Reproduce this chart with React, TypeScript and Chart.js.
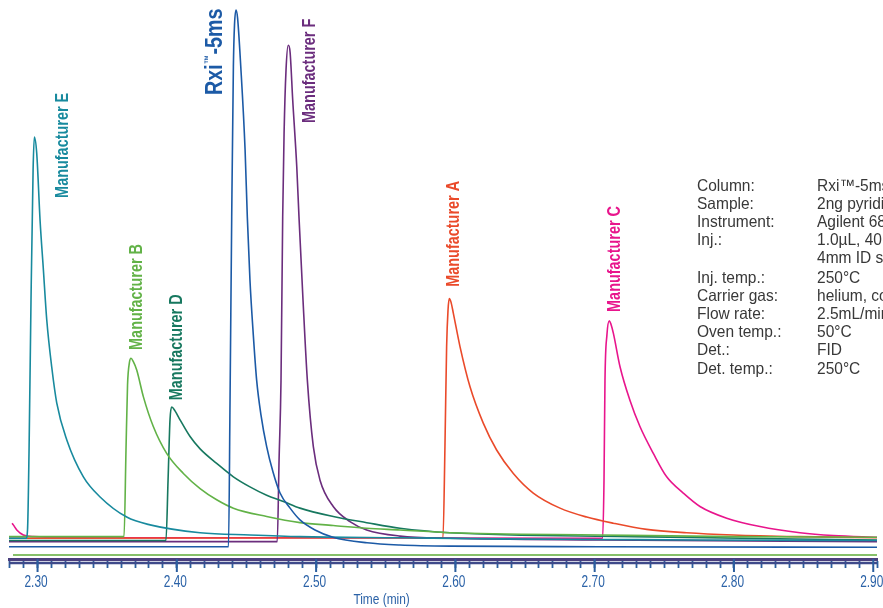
import React, { useEffect, useRef } from "react";
import { Chart, registerables } from "chart.js";

Chart.register(...registerables);

// ---- data (time in min, response in % of full scale) ----
const rxiT = [2.2795, 2.4371, 2.4382, 2.4394, 2.4406, 2.4414, 2.4425, 2.4436, 2.4459, 2.449, 2.4506, 2.4525, 2.4549, 2.4573, 2.4604, 2.4645, 2.469, 2.4741, 2.4813, 2.4884, 2.4992, 2.5121, 2.5365, 2.5602, 2.5961, 2.7038, 2.9027];
const rxiV = [2.2, 2.2, 28.4, 61.2, 88.1, 95.5, 98.2, 96.8, 88.1, 73.2, 61.2, 49.9, 40.1, 32.0, 25.8, 20.1, 15.6, 11.8, 9.1, 7.0, 5.2, 3.9, 2.9, 2.5, 2.3, 2.2, 2.1];

const eT = [2.2795, 2.2917, 2.2928, 2.2939, 2.2953, 2.2968, 2.2977, 2.2994, 2.3018, 2.3042, 2.3066, 2.3102, 2.3138, 2.321, 2.3329, 2.3449, 2.364, 2.3808, 2.4167, 2.4525, 2.4884, 2.5602, 2.632, 2.7038, 2.7756, 2.9027];
const eV = [3.7, 3.7, 5.2, 19.5, 46.3, 69.6, 75.5, 72.6, 60.6, 51.7, 42.8, 34.3, 27.9, 21.3, 14.7, 11.1, 7.5, 6.1, 4.7, 4.3, 4.0, 3.8, 3.6, 3.5, 3.4, 3.3];

const bT = [2.2795, 2.3621, 2.3635, 2.3646, 2.366, 2.3671, 2.3686, 2.3712, 2.376, 2.3831, 2.3927, 2.4047, 2.4167, 2.4286, 2.4406, 2.4645, 2.4884, 2.5123, 2.5363, 2.5602, 2.5961, 2.7038, 2.7995, 2.9027];
const bV = [4.0, 4.0, 19.5, 31.1, 35.2, 35.9, 35.4, 33.8, 29.0, 23.7, 18.9, 15.3, 12.6, 10.6, 9.1, 7.6, 6.5, 6.0, 5.5, 5.2, 4.7, 4.3, 4.0, 3.9];

const dT = [2.2795, 2.3922, 2.3937, 2.3951, 2.3963, 2.3987, 2.4023, 2.4095, 2.4167, 2.4286, 2.4406, 2.4525, 2.4645, 2.4765, 2.4884, 2.5123, 2.5363, 2.5602, 2.5961, 2.7275, 2.9027];
const dV = [3.3, 3.3, 14.1, 24.9, 27.2, 26.5, 24.9, 21.9, 19.7, 17.1, 14.7, 12.9, 11.4, 10.3, 9.1, 7.6, 6.5, 5.5, 4.7, 4.0, 3.4];

const fT = [2.2795, 2.4721, 2.4734, 2.4748, 2.476, 2.477, 2.4784, 2.48, 2.4813, 2.4832, 2.4861, 2.4877, 2.4906, 2.4937, 2.498, 2.5028, 2.5123, 2.5243, 2.5363, 2.5602, 2.5961, 2.7038, 2.9027];
const fV = [3.1, 3.1, 17.7, 32.0, 61.2, 76.2, 87.5, 91.9, 90.7, 82.1, 70.2, 61.2, 46.3, 32.0, 20.1, 14.1, 9.4, 6.7, 5.2, 4.1, 3.7, 3.4, 3.1];

const aT = [2.2795, 2.5911, 2.5925, 2.5937, 2.5947, 2.5956, 2.5968, 2.5985, 2.6033, 2.6105, 2.62, 2.6296, 2.6416, 2.6559, 2.6751, 2.6943, 2.7134, 2.7373, 2.766, 2.7995, 2.8474, 2.9027];
const aV = [3.7, 3.8, 20.1, 38.0, 44.5, 46.6, 46.0, 44.0, 38.0, 30.8, 24.3, 19.5, 15.3, 11.8, 9.1, 7.5, 6.4, 5.3, 4.7, 4.3, 4.0, 3.8];

const cT = [2.2817, 2.2826, 2.2851, 2.2898, 2.297, 2.3449, 2.4884, 2.7057, 2.7067, 2.7074, 2.7088, 2.7105, 2.7117, 2.7134, 2.7182, 2.7253, 2.7325, 2.7421, 2.7517, 2.7636, 2.7756, 2.7948, 2.8187, 2.8474, 2.8713, 2.9027];
const cV = [6.4, 6.1, 5.2, 4.3, 4.0, 3.8, 3.8, 3.7, 14.1, 32.0, 40.1, 42.6, 42.0, 40.4, 34.4, 28.4, 23.7, 18.9, 14.7, 11.8, 9.4, 7.3, 5.8, 4.7, 4.2, 3.9];

const seriesNames = ["Rxi™-5ms", "Manufacturer E", "Manufacturer B", "Manufacturer D", "Manufacturer F", "Manufacturer A", "Manufacturer C"];
const seriesColors = ["#1c5aa6", "#188a9e", "#62b247", "#17785f", "#6b2d7d", "#ea4a2a", "#e8158c"];

// peak label anchors (time, response)
const labelT = [2.4325, 2.3219, 2.375, 2.4037, 2.4992, 2.6026, 2.7182];
const labelV = [83.0, 64.6, 37.4, 28.4, 78.0, 48.7, 44.2];

const tickLabels = ["2.30", "2.40", "2.50", "2.60", "2.70", "2.80", "2.90"];
const xMin = 2.2795;
const xMax = 2.9027;

const infoLabels = ["Column:", "Sample:", "Instrument:", "Inj.:", "", "Inj. temp.:", "Carrier gas:", "Flow rate:", "Oven temp.:", "Det.:", "Det. temp.:"];
const infoValues = ["Rxi™-5ms, 30m, 0.25mm ID, 0.25µm", "2ng pyridine", "Agilent 6890", "1.0µL, 40µg/mL", "4mm ID single gooseneck", "250°C", "helium, constant flow", "2.5mL/min", "50°C", "FID", "250°C"];

const SANS = "'Liberation Sans', Arial, sans-serif";
const AXIS_BLUE = "#2b62a7";

function pts(t: number[], v: number[]) {
  return t.map((x, i) => ({ x, y: v[i] }));
}

// draw condensed text (horizontal squeeze)
function squeezed(ctx: any, text: string, x: number, y: number, sx: number, align: string) {
  ctx.save();
  ctx.translate(x, y);
  ctx.scale(sx, 1);
  ctx.textAlign = align;
  ctx.fillText(text, 0, 0);
  ctx.restore();
}

const overlayPlugin = {
  id: "overlay",
  afterDraw(chart: any) {
    const ctx = chart.ctx;
    const xs = chart.scales.x;
    const ys = chart.scales.y;
    const area = chart.chartArea;
    const b = area.bottom;
    ctx.save();
    // ruler decoration
    ctx.strokeStyle = "#86c06a";
    ctx.lineWidth = 2;
    ctx.beginPath();
    ctx.moveTo(area.left + 4, b - 4);
    ctx.lineTo(area.right, b - 4);
    ctx.stroke();
    ctx.strokeStyle = "#3f4a8a";
    ctx.lineWidth = 2.5;
    ctx.beginPath();
    ctx.moveTo(area.left, b + 4);
    ctx.lineTo(area.right, b + 4);
    ctx.stroke();
    ctx.strokeStyle = "#2b5e9e";
    ctx.lineWidth = 2;
    tickLabels.forEach((s) => {
      const px = xs.getPixelForValue(parseFloat(s));
      ctx.beginPath();
      ctx.moveTo(px, b);
      ctx.lineTo(px, b + 13);
      ctx.stroke();
    });
    // tick labels (condensed)
    ctx.fillStyle = AXIS_BLUE;
    ctx.font = `16.5px ${SANS}`;
    ctx.textBaseline = "alphabetic";
    tickLabels.forEach((s) => {
      const px = xs.getPixelForValue(parseFloat(s));
      squeezed(ctx, s, px - 1.5, 587, 0.72, "center");
    });
    // axis title
    ctx.font = `14.5px ${SANS}`;
    squeezed(ctx, "Time (min)", xs.getPixelForValue(2.547), 604, 0.82, "center");
    // peak labels (rotated)
    seriesNames.forEach((name, i) => {
      const x = xs.getPixelForValue(labelT[i]);
      const y = ys.getPixelForValue(labelV[i]);
      ctx.save();
      ctx.translate(x, y);
      ctx.rotate(-Math.PI / 2);
      ctx.fillStyle = seriesColors[i];
      ctx.textAlign = "left";
      ctx.textBaseline = "alphabetic";
      if (i === 0) {
        ctx.scale(0.82, 1);
        const big = `bold 24px ${SANS}`;
        const small = `bold 11px ${SANS}`;
        const parts = name.split("™");
        ctx.font = big;
        ctx.fillText(parts[0], 0, 0);
        let off = ctx.measureText(parts[0]).width;
        ctx.font = small;
        ctx.fillText("™", off + 0.5, -10);
        off += ctx.measureText("™").width + 1;
        ctx.font = big;
        ctx.fillText(parts[1], off, 0);
      } else {
        ctx.scale(0.76, 1);
        ctx.font = `bold 19px ${SANS}`;
        ctx.fillText(name, 0, 0);
      }
      ctx.restore();
    });
    // method info
    ctx.fillStyle = "#383838";
    ctx.font = `16.5px ${SANS}`;
    infoLabels.forEach((lab, i) => {
      const y = 190.5 + i * 18.1 + (i >= 5 ? 2 : 0);
      if (lab) squeezed(ctx, lab, 697, y, 0.94, "left");
      squeezed(ctx, infoValues[i], 817, y, 0.94, "left");
    });
    ctx.restore();
  },
};

export default function App() {
  const ref = useRef<HTMLCanvasElement | null>(null);
  useEffect(() => {
    document.body.style.margin = "0";
    const series = [
      pts(rxiT, rxiV),
      pts(eT, eV),
      pts(bT, bV),
      pts(dT, dV),
      pts(fT, fV),
      pts(aT, aV),
      pts(cT, cV),
    ];
    const chart = new Chart(ref.current as HTMLCanvasElement, {
      type: "line",
      data: {
        datasets: series.map((d, i) => ({
          label: seriesNames[i],
          data: d,
          borderColor: seriesColors[i],
          borderWidth: 1.6,
          pointRadius: 0,
          cubicInterpolationMode: "monotone" as const,
          fill: false,
        })),
      },
      options: {
        animation: false,
        responsive: false,
        devicePixelRatio: 1,
        layout: { padding: { left: 9, right: 6, top: 0, bottom: 16 } },
        plugins: { legend: { display: false }, tooltip: { enabled: false } },
        scales: {
          x: {
            type: "linear",
            min: xMin,
            max: xMax,
            border: { display: true, color: "#4a3f7d", width: 3 },
            grid: {
              drawOnChartArea: false,
              drawTicks: true,
              tickLength: 9,
              tickColor: "#2b5e9e",
              tickWidth: 1.8,
            },
            ticks: {
              stepSize: 0.01,
              autoSkip: false,
              maxRotation: 0,
              padding: 3,
              color: "rgba(0,0,0,0)",
              font: { family: SANS, size: 15 },
              callback: (value: any) => {
                const v = Number(value);
                if (Math.abs(v * 100 - Math.round(v * 100)) > 1e-6) return "";
                const s = v.toFixed(2);
                return tickLabels.includes(s) ? s : "";
              },
            },
          },
          y: { display: false, min: 0, max: 100 },
        },
      },
      plugins: [overlayPlugin],
    });
    return () => chart.destroy();
  }, []);
  return (
    <div style={{ position: "fixed", left: 0, top: 0, width: 883, height: 608, background: "#fff" }}>
      <canvas ref={ref} width={883} height={608} />
    </div>
  );
}
